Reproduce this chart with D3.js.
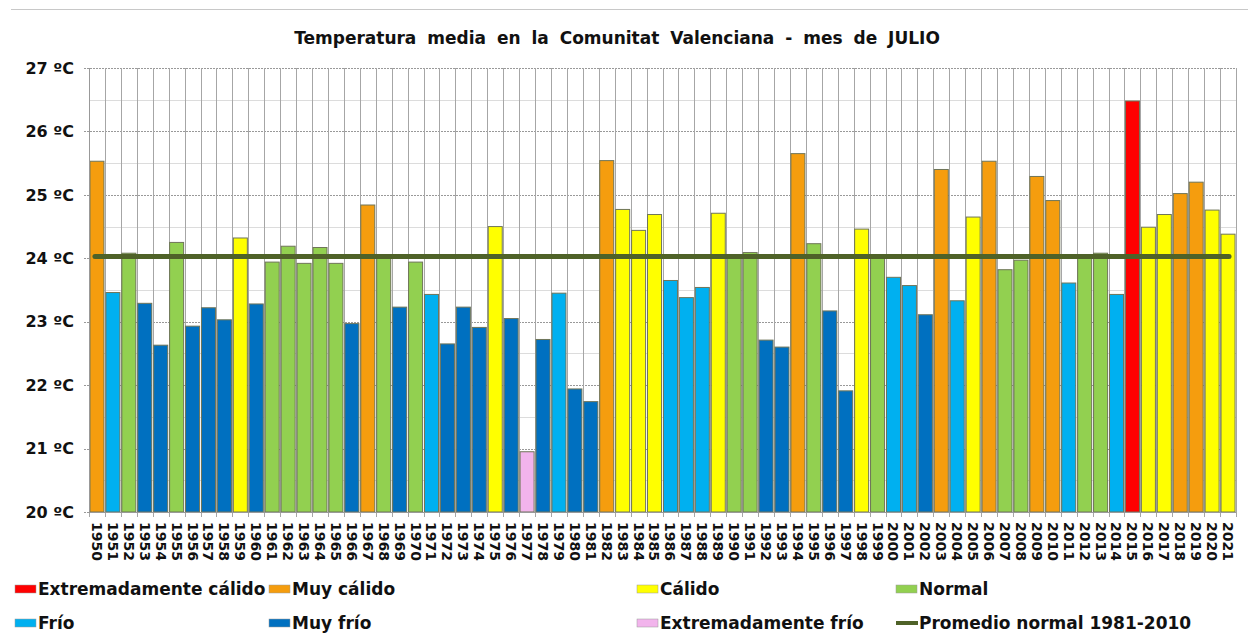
<!DOCTYPE html>
<html>
<head>
<meta charset="utf-8">
<script src="https://cdn.jsdelivr.net/npm/d3@7"></script>
<style>
  body { margin: 0; background: #fff; }
  text { font-family: "DejaVu Sans", Verdana, sans-serif; font-weight: bold; fill: #111; }
</style>
</head>
<body>
<div id="chart"></div>
<script>
// Years on the x axis
var years = d3.range(1950, 2022);

// Mean July temperature (ºC) for each year
var temps = [
  25.53, 23.46, 24.08, 23.29, 22.63, 24.25, 22.93, 23.22, 23.03, 24.32,
  23.28, 23.94, 24.19, 23.92, 24.17, 23.92, 22.97, 24.84, 24.02, 23.23,
  23.94, 23.43, 22.65, 23.23, 22.91, 24.50, 23.05, 20.95, 22.72, 23.45,
  21.94, 21.74, 25.54, 24.77, 24.44, 24.69, 23.65, 23.38, 23.54, 24.71,
  24.02, 24.09, 22.71, 22.60, 25.65, 24.23, 23.17, 21.91, 24.46, 24.01,
  23.70, 23.57, 23.11, 25.40, 23.33, 24.65, 25.53, 23.82, 23.97, 25.29,
  24.91, 23.61, 24.02, 24.08, 23.43, 26.48, 24.49, 24.69, 25.02, 25.20,
  24.76, 24.38
];

// Character of each year
var classes = [
  "MC", "F", "N", "MF", "MF", "N", "MF", "MF", "MF", "C",
  "MF", "N", "N", "N", "N", "N", "MF", "MC", "N", "MF",
  "N", "F", "MF", "MF", "MF", "C", "MF", "EF", "MF", "F",
  "MF", "MF", "MC", "C", "C", "C", "F", "F", "F", "C",
  "N", "N", "MF", "MF", "MC", "N", "MF", "MF", "C", "N",
  "F", "F", "MF", "MC", "F", "C", "MC", "N", "N", "MC",
  "MC", "F", "N", "N", "F", "EC", "C", "C", "MC", "MC",
  "C", "C"
];

// Normal 1981-2010
var normalValue = 24.03;

// Y tick values and labels
var yTicks = [20, 21, 22, 23, 24, 25, 26, 27];
var yTickLabels = ["20 ºC", "21 ºC", "22 ºC", "23 ºC", "24 ºC", "25 ºC", "26 ºC", "27 ºC"];

// Legend
var classKeys = ["EC", "MC", "C", "N", "F", "MF", "EF"];
var classNames = ["Extremadamente cálido", "Muy cálido", "Cálido", "Normal",
                  "Frío", "Muy frío", "Extremadamente frío"];
var classColors = ["#ff0000", "#f59d0e", "#ffff00", "#92d050",
                   "#00b0f0", "#0070c0", "#f2b4ec"];
var normalName = "Promedio normal 1981-2010";

var svgWidth = 1248;
var svgHeight = 639;

var chartMargin = { top: 68, right: 12, bottom: 127, left: 89 };
var chartWidth = svgWidth - chartMargin.left - chartMargin.right;
var chartHeight = svgHeight - chartMargin.top - chartMargin.bottom;

var svg = d3.select("#chart")
  .append("svg")
  .attr("width", svgWidth)
  .attr("height", svgHeight);

// frame line on top
svg.append("line")
  .attr("x1", 11).attr("x2", svgWidth)
  .attr("y1", 9.5).attr("y2", 9.5)
  .attr("stroke", "#c8c8c8");

var defs = svg.append("defs");
var blur = defs.append("filter").attr("id", "shadow")
  .attr("x", "-5%").attr("y", "-200%").attr("width", "110%").attr("height", "500%");
blur.append("feGaussianBlur").attr("stdDeviation", 2.5);

var chartGroup = svg.append("g")
  .attr("transform", `translate(${chartMargin.left}, ${chartMargin.top})`);

var color = d3.scaleOrdinal().domain(classKeys).range(classColors);

var xBandScale = d3.scaleBand()
  .domain(years)
  .range([0, chartWidth])
  .paddingInner(0.12)
  .paddingOuter(0.06);

var yLinearScale = d3.scaleLinear()
  .domain([20, 27])
  .range([chartHeight, 0]);

// minor horizontal grid at half degrees
chartGroup.append("g")
  .selectAll("line")
  .data(d3.range(20.5, 27, 1))
  .enter()
  .append("line")
  .attr("x1", 0).attr("x2", chartWidth)
  .attr("y1", d => Math.round(yLinearScale(d)) + 0.5)
  .attr("y2", d => Math.round(yLinearScale(d)) + 0.5)
  .attr("stroke", "#dcdcdc");

// major horizontal grid
chartGroup.append("g")
  .selectAll("line")
  .data(yTicks)
  .enter()
  .append("line")
  .attr("x1", -5).attr("x2", chartWidth)
  .attr("y1", d => Math.round(yLinearScale(d)) + 0.5)
  .attr("y2", d => Math.round(yLinearScale(d)) + 0.5)
  .attr("stroke", "#999")
  .attr("stroke-dasharray", "2,1");

// vertical grid at year boundaries
var step = xBandScale.step();
chartGroup.append("g")
  .selectAll("line")
  .data(d3.range(years.length + 1))
  .enter()
  .append("line")
  .attr("x1", i => Math.round(i * step) + 0.5)
  .attr("x2", i => Math.round(i * step) + 0.5)
  .attr("y1", 0)
  .attr("y2", chartHeight + 5)
  .attr("stroke", "#a6a6a6");

// Bars
chartGroup.selectAll(".bar")
  .data(years)
  .enter()
  .append("rect")
  .attr("class", "bar")
  .attr("x", (d, i) => xBandScale(d))
  .attr("width", xBandScale.bandwidth())
  .attr("y", (d, i) => yLinearScale(temps[i]))
  .attr("height", (d, i) => chartHeight - yLinearScale(temps[i]))
  .attr("fill", (d, i) => color(classes[i]))
  .attr("stroke", "#6f7559")
  .attr("stroke-width", 1);

// Normal line with soft shadow
var lineX1 = xBandScale(years[0]) + 5;
var lineX2 = xBandScale(years[years.length - 1]) + xBandScale.bandwidth() - 6;
chartGroup.append("line")
  .attr("x1", lineX1).attr("x2", lineX2)
  .attr("y1", yLinearScale(normalValue) + 1)
  .attr("y2", yLinearScale(normalValue) + 1)
  .attr("stroke", "#333")
  .attr("stroke-opacity", 0.6)
  .attr("stroke-width", 9)
  .attr("stroke-linecap", "round")
  .attr("filter", "url(#shadow)");
chartGroup.append("line")
  .attr("x1", lineX1).attr("x2", lineX2)
  .attr("y1", yLinearScale(normalValue))
  .attr("y2", yLinearScale(normalValue))
  .attr("stroke", "#4f6228")
  .attr("stroke-width", 5)
  .attr("stroke-linecap", "round");

// Axis lines
chartGroup.append("line")
  .attr("x1", 0.5).attr("x2", 0.5)
  .attr("y1", 0).attr("y2", chartHeight)
  .attr("stroke", "#999");
chartGroup.append("line")
  .attr("x1", 0).attr("x2", chartWidth)
  .attr("y1", chartHeight + 0.5).attr("y2", chartHeight + 0.5)
  .attr("stroke", "#999");

// Y labels
chartGroup.append("g")
  .selectAll("text")
  .data(yTicks)
  .enter()
  .append("text")
  .attr("x", -15)
  .attr("y", d => yLinearScale(d))
  .attr("dy", "0.36em")
  .attr("text-anchor", "end")
  .style("font-size", "16px")
  .text((d, i) => yTickLabels[i]);

// X labels (rotated)
chartGroup.append("g")
  .selectAll("text")
  .data(years)
  .enter()
  .append("text")
  .attr("transform", d => `translate(${xBandScale(d) + xBandScale.bandwidth() / 2}, ${chartHeight + 10}) rotate(90)`)
  .attr("dy", "0.36em")
  .style("font-size", "14px")
  .text(d => d);

// Title
svg.append("text")
  .attr("x", 617)
  .attr("y", 44)
  .attr("text-anchor", "middle")
  .style("font-size", "17px")
  .style("word-spacing", "5px")
  .text("Temperatura media en la Comunitat Valenciana - mes de JULIO");

// Legend
var legendCols = [15, 269, 637, 896];
var legendRows = [589, 623];
var legendItems = classNames.map((n, i) => ({ name: n, color: classColors[i] }));
legendItems.push({ name: normalName, line: true });

var legend = svg.append("g")
  .selectAll("g")
  .data(legendItems)
  .enter()
  .append("g")
  .attr("transform", (d, i) => `translate(${legendCols[i % 4]}, ${legendRows[Math.floor(i / 4)]})`);

legend.filter(d => !d.line)
  .append("rect")
  .attr("x", 0).attr("y", -4)
  .attr("width", 21).attr("height", 8)
  .attr("fill", d => d.color)
  .attr("stroke", "#9a9a9a")
  .attr("stroke-width", 0.5);

legend.filter(d => d.line)
  .append("line")
  .attr("x1", 0).attr("x2", 22)
  .attr("y1", 0).attr("y2", 0)
  .attr("stroke", "#4f6228")
  .attr("stroke-width", 4);

legend.append("text")
  .attr("x", 23)
  .attr("y", 0)
  .attr("dy", "0.36em")
  .style("font-size", "17px")
  .text(d => d.name);
</script>
</body>
</html>
